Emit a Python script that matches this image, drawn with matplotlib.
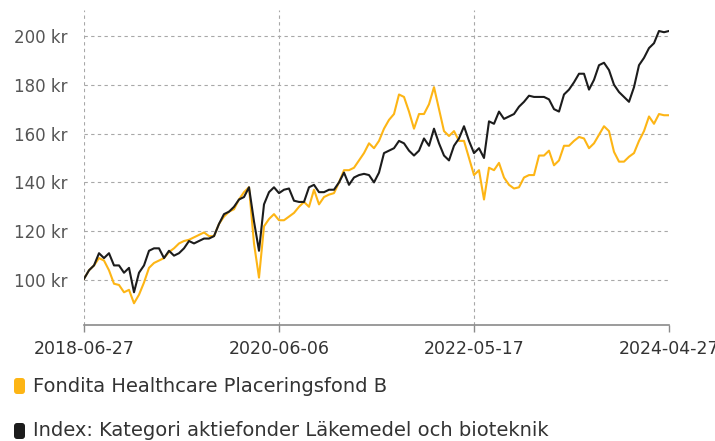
import numpy as np
import pandas as pd
import matplotlib
matplotlib.use("Agg")
import matplotlib.pyplot as plt
import matplotlib.dates as mdates
from matplotlib.patches import FancyBboxPatch

plt.rcParams["font.family"] = ["DejaVu Sans"]

start_date = "2018-06-27"
end_date = "2024-04-27"
tick_dates = ["2018-06-27", "2020-06-06", "2022-05-17", "2024-04-27"]
y_ticks = [100, 120, 140, 160, 180, 200]

fund_label = "Fondita Healthcare Placeringsfond B"
index_label = "Index: Kategori aktiefonder Läkemedel och bioteknik"

# values, evenly spaced in time
fund = [
    100.5, 104, 106, 109, 108, 104, 98.5, 98, 95, 96,
    90.5, 94, 99, 105, 107, 108, 109, 111.5, 113, 115,
    116, 116.5, 117.5, 118.5, 119.5, 118, 118, 123, 126, 128,
    129, 133, 136, 138, 115, 101, 122, 125, 127, 124.5,
    124.5, 126, 127.5, 130, 132, 130, 137, 131, 134, 135,
    135.6, 140, 145, 145, 146, 149, 152, 156, 154, 157,
    162, 165.6, 168, 176, 175, 169, 162, 168, 168, 172,
    179, 170, 161, 159, 161, 157, 157, 150, 143, 145,
    133, 146, 145, 148, 142, 139, 137.5, 138, 142, 143,
    143, 151, 151, 153, 147, 149, 155, 155, 157, 158.6,
    158, 154, 156, 159.5, 163, 161, 152.5, 148.5, 148.5, 150.5,
    152, 157, 161, 167, 164, 168, 167.5, 167.5,
]
index = [
    100.5, 104, 106, 111, 109, 111, 106, 106, 103, 105,
    95, 103, 106, 112, 113, 113, 109, 112, 110, 111,
    113, 116, 115, 116, 117, 117, 118, 123, 127, 128,
    130, 133, 134, 138, 124, 112, 131, 136, 138, 135.6,
    137, 137.5, 132.5, 132, 132, 138, 139, 136, 136, 137,
    137, 140, 144, 139, 142, 143, 143.5, 143, 140, 144,
    152, 153, 154, 157, 156, 153, 151, 153, 158, 155,
    162, 156, 151, 149, 155, 158, 163, 157, 152, 154,
    150, 165, 164, 169, 166, 167, 168, 171, 173, 175.5,
    175, 175, 175, 174, 170, 169, 176, 178, 181, 184.5,
    184.5, 178, 182, 188, 189, 186, 180, 177, 175, 173,
    179, 188, 191, 195, 197, 202, 201.5, 202,
]

dates = pd.date_range(start_date, end_date, periods=len(fund))

fund_color = "#FDB515"
index_color = "#1c1c1c"

fig = plt.figure(figsize=(7.15, 4.41), dpi=100)
ax = fig.add_axes([84 / 715, 1 - 325 / 441, 585 / 715, 315 / 441])

ax.plot(dates, fund, color=fund_color, lw=1.5, zorder=3)
ax.plot(dates, index, color=index_color, lw=1.5, zorder=4)

ticks = pd.to_datetime(tick_dates)
ax.set_xlim(ticks[0], ticks[-1])
ax.set_ylim(81.6, 210.6)
ax.set_xticks(ticks)
ax.set_xticklabels(tick_dates)
ax.set_yticks(y_ticks)
ax.set_yticklabels([f"{v} kr" for v in y_ticks])

for s in ["top", "right", "left"]:
    ax.spines[s].set_visible(False)
ax.spines["bottom"].set_color("#8a8a8a")
ax.spines["bottom"].set_linewidth(1.2)

ax.grid(True, color="#a8a8a8", linestyle=(0, (3, 3)), linewidth=0.8)
ax.set_axisbelow(True)
ax.get_xgridlines()[-1].set_visible(False)

ax.tick_params(axis="y", length=0, pad=12, labelsize=12, labelcolor="#555555")
ax.tick_params(axis="x", length=5, width=1, color="#8a8a8a", pad=6,
               labelsize=12.5, labelcolor="#333333")

# legend below the chart
for label, color, ypx in [(fund_label, fund_color, 386), (index_label, index_color, 431)]:
    fig.patches.append(FancyBboxPatch((14, 441 - ypx - 8), 11, 16,
                                      boxstyle="round,pad=0,rounding_size=3",
                                      facecolor=color, edgecolor="none",
                                      transform=None, figure=fig))
    fig.text(33 / 715, 1 - ypx / 441, label, fontsize=14, color="#333333", va="center")

fig.savefig("out.png", dpi=100)
